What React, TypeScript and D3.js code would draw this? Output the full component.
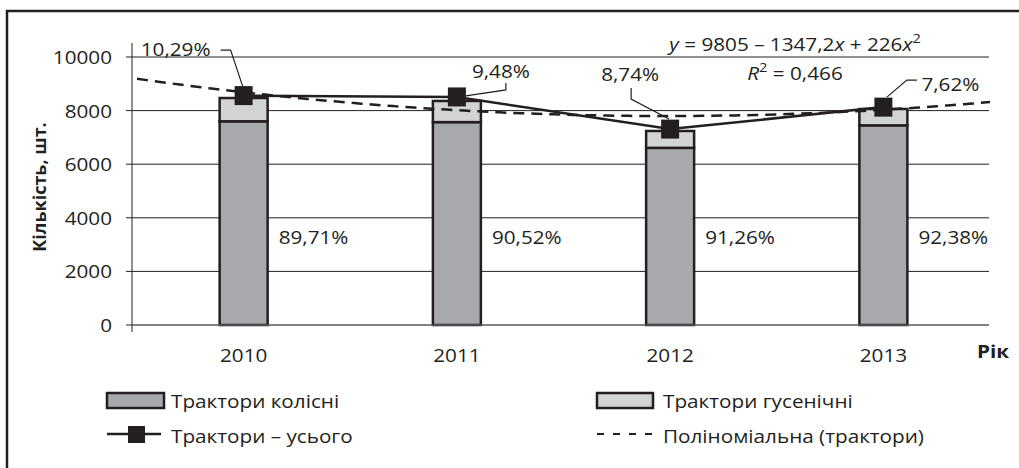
import React from 'react';
import * as d3 from 'd3';

// data
const years = ['2010', '2011', '2012', '2013'];
const wheeled = [7600, 7570, 6610, 7450];
const tracked = [870, 790, 630, 610];
const totalLine = [8560, 8510, 7310, 8130];
const trackedShare = ['10,29%', '9,48%', '8,74%', '7,62%'];
const wheeledShare = ['89,71%', '90,52%', '91,26%', '92,38%'];
const yTicks = [0, 2000, 4000, 6000, 8000, 10000];
// polynomial trend shown on the chart: y = 9805 – 1347,2x + 226x²
const trendCoef = [9805, -1347.2, 226];

const W = 1019;
const H = 468;
const INK = '#231f20';
const FONT = '"Open Sans", "Noto Sans", sans-serif';
const SX = 1.12; // the original type is set wide
const FS = 18.5;

// label layout: text centre and leader points, relative to the marker
const topLabelPos = [
  { dx: -68, dy: -47, path: [[-23, -45.5], [-13, -45.5], [-1, -9.5]] },
  { dx: 44, dy: -26, path: [[49, -14], [49, -7], [9, -1]] },
  { dx: -40, dy: -55, path: [[-39, -41], [-39, -30], [-1, -10]] },
  { dx: 67, dy: -23, path: [[33.5, -27], [23.5, -27], [3.5, -10]] },
];

type TProps = {
  x: number;
  y: number;
  anchor?: 'start' | 'middle' | 'end';
  size?: number;
  weight?: number | string;
  children: React.ReactNode;
};

function T({ x, y, anchor = 'start', size = FS, weight = 400, children }: TProps) {
  return (
    <text
      transform={`translate(${x},${y}) scale(${SX},1)`}
      textAnchor={anchor}
      dominantBaseline="central"
      fontSize={size}
      fontWeight={weight}
      fontFamily={FONT}
      fill={INK}
    >
      {children}
    </text>
  );
}

export default function App() {
  const margin = { left: 137, right: 29, top: 57, bottom: 143 };
  const x = d3.scaleBand<string>().domain(years).range([margin.left, W - margin.right]).padding(0);
  const y = d3.scaleLinear().domain([0, 10000]).range([H - margin.bottom, margin.top]);
  const axisX = 132;
  const barW = 48;
  const cx = (i: number) => (x(years[i]) as number) + x.bandwidth() / 2;

  // trend x is 1..4 at the year centres, 0.5..4.5 at the plot edges
  const tx = d3.scaleLinear().domain([0.5, 4.5]).range([margin.left, W - margin.right]);
  const trendPts = d3.range(0.5, 4.5001, 0.05).map(t => [t, trendCoef[0] + trendCoef[1] * t + trendCoef[2] * t * t]);
  const trendPath = d3.line<number[]>().x(d => tx(d[0])).y(d => y(d[1])).curve(d3.curveMonotoneX)(trendPts) as string;
  const linePath = d3.line<number>().x((_, i) => cx(i)).y(d => y(d))(totalLine) as string;

  const x1 = W - margin.right - 1;

  return (
    <svg width={W} height={H} style={{ position: 'absolute', left: 0, top: 0, background: '#fff' }}>
      <rect x={7} y={11} width={1100} height={600} fill="#fff" stroke={INK} strokeWidth={2.5} />

      {/* grid */}
      {yTicks.filter(t => t > 0).map(t => (
        <line key={t} x1={axisX} x2={x1} y1={y(t)} y2={y(t)} stroke={INK} strokeWidth={1} />
      ))}
      {yTicks.map(t => (
        <g key={'t' + t}>
          <line x1={axisX - 6} x2={axisX} y1={y(t)} y2={y(t)} stroke={INK} strokeWidth={1} />
          <T x={112} y={y(t)} anchor="end">{t}</T>
        </g>
      ))}
      <line x1={axisX} x2={axisX} y1={43} y2={332} stroke={INK} strokeWidth={1} />

      {/* bars */}
      {years.map((yr, i) => (
        <g key={yr}>
          <rect x={cx(i) - barW / 2} y={y(wheeled[i])} width={barW} height={y(0) - y(wheeled[i])}
            fill="#a7a9ac" stroke={INK} strokeWidth={2.5} />
          <rect x={cx(i) - barW / 2} y={y(wheeled[i] + tracked[i])} width={barW} height={y(wheeled[i]) - y(wheeled[i] + tracked[i])}
            fill="#d1d3d4" stroke={INK} strokeWidth={2.5} />
          <T x={cx(i) + 35} y={237}>{wheeledShare[i]}</T>
          <T x={cx(i)} y={355} anchor="middle">{yr}</T>
        </g>
      ))}
      <line x1={axisX} x2={x1} y1={y(0)} y2={y(0)} stroke="#58595b" strokeWidth={1.5} />

      {/* total line and trend */}
      <path d={linePath} fill="none" stroke={INK} strokeWidth={2.5} />
      <path d={trendPath} fill="none" stroke={INK} strokeWidth={2.5} strokeDasharray="11,7" />
      {totalLine.map((v, i) => (
        <rect key={i} x={cx(i) - 9} y={y(v) - 9.5} width={18} height={19} fill={INK} />
      ))}

      {/* tracked share labels */}
      {totalLine.map((v, i) => {
        const mx = cx(i);
        const my = y(v);
        const p = topLabelPos[i];
        return (
          <g key={'l' + i}>
            <polyline points={p.path.map(q => `${mx + q[0]},${my + q[1]}`).join(' ')}
              fill="none" stroke={INK} strokeWidth={1.2} />
            <T x={mx + p.dx} y={my + p.dy} anchor="middle">{trackedShare[i]}</T>
          </g>
        );
      })}

      {/* trend equation */}
      <T x={795} y={43} anchor="middle">
        <tspan fontStyle="italic">y</tspan>
        <tspan> = 9805 – 1347,2</tspan>
        <tspan fontStyle="italic">x</tspan>
        <tspan> + 226</tspan>
        <tspan fontStyle="italic">x</tspan>
        <tspan fontSize={13} dy={-6}>2</tspan>
      </T>
      <T x={795} y={72} anchor="middle">
        <tspan fontStyle="italic">R</tspan>
        <tspan fontSize={13} dy={-6}>2</tspan>
        <tspan dy={6}> = 0,466</tspan>
      </T>

      {/* axis titles */}
      <text transform="translate(39,187) rotate(-90)" textAnchor="middle" dominantBaseline="central"
        fontSize={18} fontWeight={700} fontFamily={FONT} fill={INK}>Кількість, шт.</text>
      <T x={977} y={351} weight={700}>Рік</T>

      {/* legend */}
      <rect x={107} y={393} width={57} height={15} fill="#a7a9ac" stroke={INK} strokeWidth={2.5} />
      <T x={171} y={401}>Трактори колісні</T>
      <line x1={107} x2={161} y1={434} y2={434} stroke={INK} strokeWidth={2.5} />
      <rect x={128} y={426} width={17} height={17} fill={INK} />
      <T x={171} y={436}>Трактори – усього</T>

      <rect x={597} y={393} width={56} height={15} fill="#d1d3d4" stroke={INK} strokeWidth={2.5} />
      <T x={663} y={401}>Трактори гусенічні</T>
      <line x1={597} x2={653} y1={434} y2={434} stroke={INK} strokeWidth={2} strokeDasharray="7,9" />
      <T x={663} y={436}>Поліноміальна (трактори)</T>
    </svg>
  );
}
